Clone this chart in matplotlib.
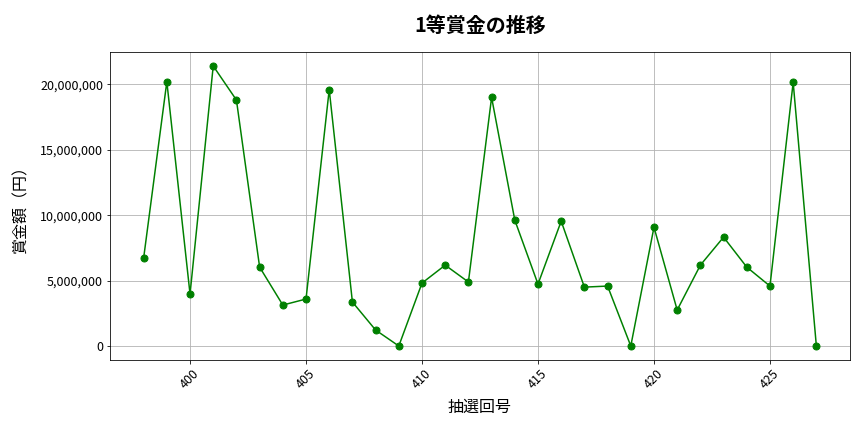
import matplotlib.pyplot as plt
from matplotlib.ticker import FuncFormatter

plt.rcParams['font.family'] = ['Noto Sans CJK JP', 'DejaVu Sans']

draws = list(range(398, 428))
prize = [6720000, 20200000, 3970000, 21400000, 18800000, 6030000, 3130000, 3590000,
         19600000, 3360000, 1220000, 0, 4810000, 6180000, 4890000, 19000000,
         9620000, 4730000, 9540000, 4500000, 4580000, 0, 9080000, 2750000,
         6180000, 8320000, 6030000, 4580000, 20150000, 0]

fig, ax = plt.subplots(figsize=(12, 6), dpi=72)
ax.plot(draws, prize, marker='o', color='green', linewidth=1.5, markersize=7)
ax.set_title("1等賞金の推移", fontsize=20, fontweight='bold', pad=20)
ax.set_xlabel("抽選回号", fontsize=16, labelpad=8)
ax.set_ylabel("賞金額（円）", fontsize=16, labelpad=10)
ax.yaxis.set_major_formatter(FuncFormatter(lambda v, p: f"{int(v):,}"))
ax.tick_params(axis='both', labelsize=12.5)
ax.tick_params(axis='x', rotation=45)
ax.grid(True, color='#b0b0b0', linewidth=0.8)
fig.subplots_adjust(left=110/864, right=850/864, top=1-52/432, bottom=1-360/432)
fig.savefig("out.png", dpi=72)
